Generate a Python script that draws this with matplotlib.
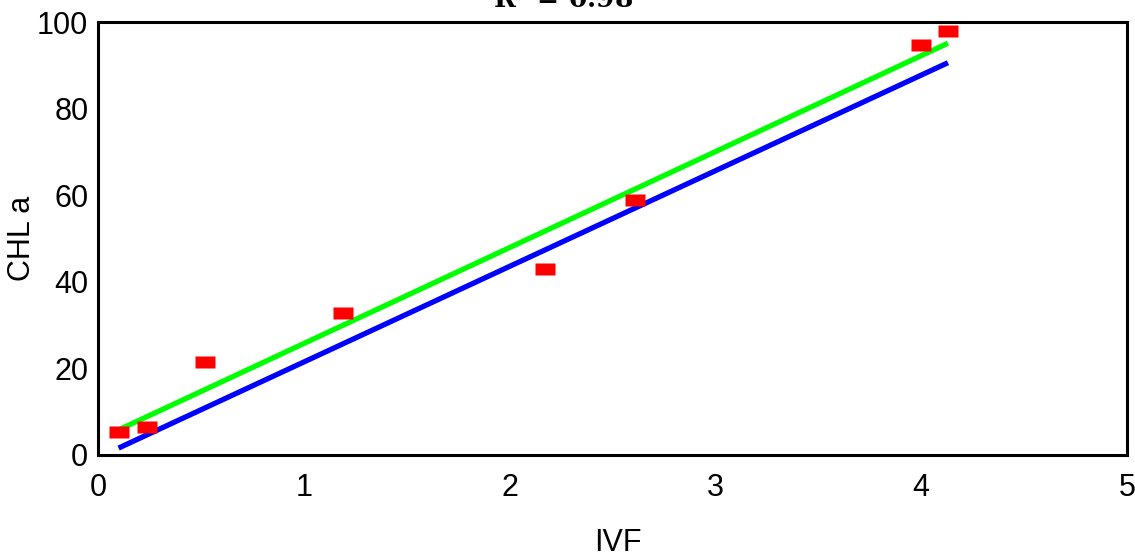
import matplotlib
matplotlib.use("Agg")
import matplotlib.pyplot as plt

# measured points (IVF vs CHL a)
ivf = [0.10, 0.24, 0.52, 1.19, 2.17, 2.61, 4.00, 4.13]
chl = [5.3, 6.5, 21.5, 32.8, 43.0, 58.9, 94.7, 97.9]

# two fitted lines, end points
fit_x = [0.10, 4.13]
green_y = [5.8, 95.1]
blue_y = [1.6, 90.6]

xticks = [0, 1, 2, 3, 4, 5]
yticks = [0, 20, 40, 60, 80, 100]

plt.rcParams['font.family'] = ['Liberation Sans', 'DejaVu Sans']

fig = plt.figure(figsize=(11.35, 5.56), dpi=100)
ax = fig.add_axes([98 / 1135, 101 / 556, 1029 / 1135, 433 / 556])

ax.plot(fit_x, blue_y, color='#0000ff', lw=3.8, solid_capstyle='butt', zorder=2)
ax.plot(fit_x, green_y, color='#00ff00', lw=3.8, solid_capstyle='butt', zorder=2)

rect = [(-2, -1.15), (2, -1.15), (2, 1.15), (-2, 1.15)]
ax.plot(ivf, chl, ls='none', marker=rect, markersize=15,
        color='#ff0000', mec='none', zorder=3)

ax.set_xlim(0, 5)
ax.set_ylim(0, 100)
ax.set_xticks(xticks)
ax.set_yticks(yticks)
ax.tick_params(length=0, labelsize=22)
ax.tick_params(axis='x', pad=13)
ax.tick_params(axis='y', pad=7)
for s in ax.spines.values():
    s.set_linewidth(2.2)

ax.set_xlabel('IVF', fontsize=22)
ax.set_ylabel('CHL a', fontsize=22)
ax.xaxis.set_label_coords(0.505, -0.168)
ax.yaxis.set_label_coords(-0.059, 0.50)

# title mostly cut off at the top edge
fig.text(0.496, 1 - 8 / 556, 'R$^2$ = 0.98', family='serif', weight='bold',
         fontsize=19, ha='center', va='baseline')

fig.savefig('out.png', dpi=100)
